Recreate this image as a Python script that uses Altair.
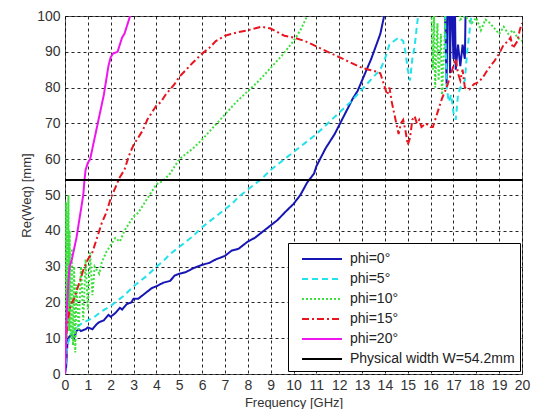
import altair as alt
import pandas as pd

# ---------------- data ----------------
SERIES = ["phi=0°", "phi=5°", "phi=10°", "phi=15°", "phi=20°", "Physical width W=54.2mm"]

phi0_f = [0, 0.05, 0.1, 0.15, 0.2, 0.3, 0.4, 0.5, 0.6, 0.7, 0.9, 1.0, 1.2, 1.4, 1.5, 1.7, 1.9, 2.0,
          2.2, 2.4, 2.5, 2.7, 2.9, 3.0, 3.2, 3.4, 3.6, 3.8, 4.0, 4.3, 4.6, 4.8, 5.0, 5.3, 5.6, 6.0,
          6.3, 6.6, 7.0, 7.3, 7.6, 8.0, 8.3, 8.6, 9.0, 9.3, 9.6, 10.0, 10.3, 10.6, 10.9, 11.0, 11.2,
          11.4, 11.6, 11.8, 12.0, 12.2, 12.4, 12.6, 12.8, 13.0, 13.2, 13.4, 13.6, 13.8, 13.9, 14.0,
          14.2, 16.6, 16.7, 16.75, 16.8, 16.85, 16.9, 17.0, 17.05, 17.1, 17.2, 17.3, 17.4, 17.5,
          17.55, 18.0, 20.0]
phi0_v = [0, 2, 8, 10, 10.5, 11, 10, 12, 12.5, 12, 12.5, 13, 12.5, 14, 14.5, 15, 16.5, 16,
          17, 18.5, 18, 19.5, 20, 21, 21, 22, 23, 24, 24.5, 25.5, 26, 27.5, 28, 28.5, 29.5, 30.5,
          31, 32, 33, 34.5, 35, 37, 38, 39.5, 41.5, 43, 45, 47.5, 50, 53.5, 56, 58, 60.5,
          63, 65, 67, 69.5, 72, 74.5, 77, 79, 82, 85, 88, 91.5, 95, 98, 101,
          110, 110, 81, 110, 110, 84, 110, 88, 110, 85, 92, 86, 92, 88,
          110, 110, 110]

phi5_f = [0, 0.05, 0.1, 0.2, 0.3, 0.5, 0.7, 1.0, 1.3, 1.6, 2.0, 2.3, 2.6, 3.0, 3.3, 3.6, 4.0, 4.3,
          4.6, 5.0, 5.3, 5.6, 6.0, 6.3, 6.6, 7.0, 7.3, 7.6, 8.0, 8.3, 8.6, 9.0, 9.3, 9.6, 10.0,
          10.5, 11.0, 11.5, 12.0, 12.5, 13.0, 13.5, 13.8, 14.0, 14.2, 14.4, 14.6, 14.8, 14.9, 15.0,
          15.1, 15.2, 15.3, 15.45, 15.6, 16.6, 16.7, 16.8, 16.9, 17.0, 17.1, 17.2, 17.3, 17.5,
          17.6, 17.8, 18.0, 20.0]
phi5_v = [0, 4, 8, 10, 11.5, 13, 14, 15, 16, 17.5, 19, 20.5, 22, 24.5, 26, 27.5, 30, 31.5,
          33.5, 35.5, 37, 38.5, 41, 42.5, 44, 46, 47.5, 49.5, 51.5, 53, 54.5, 57, 58.5, 60, 62,
          64.5, 67, 70, 73, 76, 79.5, 83, 85, 88, 92, 93, 94, 93, 90, 85,
          82, 88, 91.5, 100, 110, 110, 80, 76, 78, 73, 71, 78, 80, 82,
          90, 101, 110, 110]

phi10_f = [0, 0.03, 0.05, 0.08, 0.1, 0.12, 0.15, 0.18, 0.2, 0.25, 0.3, 0.35, 0.4, 0.45, 0.5, 0.6,
           0.7, 0.8, 0.9, 1.0, 1.1, 1.2, 1.3, 1.5, 1.6, 1.8, 2.0, 2.2, 2.4, 2.6, 2.8, 3.0, 3.2,
           3.5, 3.8, 4.0, 4.3, 4.6, 5.0, 5.3, 5.6, 6.0, 6.5, 7.0, 7.5, 8.0, 8.5, 9.0, 9.5, 10.0,
           10.3, 10.6, 10.8, 16.0, 16.1, 16.15, 16.2, 16.3, 16.35, 16.45, 16.5, 16.6, 16.7, 17.2,
           17.3, 17.5, 17.8, 18.0, 18.2, 18.4, 18.6, 18.8, 19.0, 19.2, 19.4, 19.6, 19.8, 20.0]
phi10_v = [0, 20, 48, 10, 45, 15, 50, 12, 40, 10, 35, 8, 30, 6, 25, 12,
           30, 15, 32, 18, 34, 22, 30, 28, 31, 34, 36, 38, 37, 40, 42, 44, 45,
           48, 51, 53, 54, 56, 60, 61.5, 63, 65.5, 69, 72.5, 76, 79, 82, 85.5, 89, 93,
           96, 100, 110, 110, 85, 100, 80, 98, 82, 95, 78, 92, 110, 110,
           99, 100, 98, 99.5, 96, 99, 98, 96.5, 95, 97, 95, 96, 94, 93]

phi15_f = [0, 0.05, 0.1, 0.2, 0.3, 0.4, 0.5, 0.6, 0.8, 1.0, 1.2, 1.4, 1.6, 1.8, 2.0, 2.2, 2.4,
           2.6, 2.8, 3.0, 3.2, 3.4, 3.6, 3.8, 4.0, 4.2, 4.4, 4.6, 4.8, 5.0, 5.3, 5.6, 6.0, 6.3,
           6.6, 7.0, 7.3, 7.6, 8.0, 8.3, 8.6, 9.0, 9.3, 9.6, 10.0, 10.5, 11.0, 11.5, 12.0, 12.5,
           13.0, 13.3, 13.6, 13.8, 14.0, 14.1, 14.2, 14.3, 14.4, 14.5, 14.6, 14.7, 14.8, 14.9,
           15.0, 15.1, 15.2, 15.3, 15.4, 15.5, 15.6, 15.8, 16.0, 16.1, 16.3, 16.5, 16.7, 16.85,
           17.0, 17.1, 17.2, 17.3, 17.4, 17.5, 17.7, 17.9, 18.1, 18.3, 18.5, 18.8, 19.0, 19.2,
           19.4, 19.5, 19.6, 19.8, 19.9, 20.0]
phi15_v = [3, 10, 14, 18, 20, 21, 23, 25, 29, 32, 34, 38, 42, 45, 49, 52, 55,
           57, 61, 64, 66, 68, 71, 73, 75, 76, 78, 79.5, 81, 83, 85, 87, 89.5, 91,
           93, 94.5, 95, 95.5, 96, 96.5, 97, 96.5, 95.5, 94.5, 94, 93, 91.5, 90, 88.5, 87,
           85.5, 85, 84.5, 84, 80, 78, 80, 76, 73, 70, 67, 70, 71, 68,
           64, 66, 71, 72, 70, 71, 69, 70, 69, 69, 73, 77, 80, 83,
           86, 88, 84, 82, 85, 80, 79.5, 81, 81.5, 83, 85, 87.5, 89.5, 92,
           93, 94, 91, 93, 96, 98]

phi20_f = [0, 0.03, 0.06, 0.1, 0.15, 0.2, 0.3, 0.4, 0.5, 0.6, 0.7, 0.8, 0.85, 0.9, 1.0, 1.1,
           1.2, 1.3, 1.4, 1.5, 1.6, 1.7, 1.8, 1.9, 2.0, 2.1, 2.3, 2.4, 2.5, 2.6, 2.7, 2.85, 2.9]
phi20_v = [0, 8, 15, 20, 26, 30, 32, 35, 38, 42, 46, 50, 54, 57, 59, 60,
           63, 66, 69, 72, 75, 78, 82, 86, 88.5, 89.5, 90, 92, 94, 95, 97, 100, 105]

width_f = [0, 20]
width_v = [54.2, 54.2]

x_ticks = list(range(0, 21))
y_ticks = list(range(0, 101, 10))

# ---------------- styles ----------------
COLORS = ["#1616b4", "#22e2ea", "#3ee03e", "#e8141e", "#ee16ee", "#000000"]
DASHES = [[1, 0], [6, 4], [2, 2], [7, 3, 2, 3], [1, 0], [1, 0]]
WIDTHS = [2, 2, 2, 1.6, 2, 4]

rows = []
for name, fs, vs in zip(SERIES,
                        [phi0_f, phi5_f, phi10_f, phi15_f, phi20_f, width_f],
                        [phi0_v, phi5_v, phi10_v, phi15_v, phi20_v, width_v]):
    for i, (f, v) in enumerate(zip(fs, vs)):
        rows.append({"f": f, "v": v, "series": name, "i": i})
df = pd.DataFrame(rows)

FONT = "Liberation Sans"

chart = alt.Chart(df).mark_line(clip=True).encode(
    x=alt.X("f:Q", title="Frequency [GHz]",
            scale=alt.Scale(domain=[0, 20], nice=False, zero=False),
            axis=alt.Axis(values=x_ticks, labelPadding=4, titlePadding=4,
                          labelOverlap=False, labelFlush=False)),
    y=alt.Y("v:Q", title="Re(Weq) [mm]",
            scale=alt.Scale(domain=[0, 100], nice=False),
            axis=alt.Axis(values=y_ticks, labelPadding=5, titlePadding=3,
                          labelOverlap=False, labelFlush=False)),
    color=alt.Color("series:N", scale=alt.Scale(domain=SERIES, range=COLORS),
                    legend=alt.Legend(title=None, orient="none", legendX=223, legendY=227,
                                      symbolType="M-0.2,0H3.8", symbolSize=400,
                                      labelFont=FONT, labelFontSize=14, labelColor="#222",
                                      strokeColor="black", fillColor="white",
                                      padding=5, rowPadding=2, labelOffset=35,
                                      labelLimit=300)),
    strokeDash=alt.StrokeDash("series:N", scale=alt.Scale(domain=SERIES, range=DASHES)),
    strokeWidth=alt.StrokeWidth("series:N", scale=alt.Scale(domain=SERIES, range=WIDTHS)),
    order="i:Q",
).properties(
    width=457, height=358,
    autosize=alt.AutoSizeParams(type="none"),
    padding={"left": 57, "top": 8, "right": 9, "bottom": 35},
).configure_view(
    stroke="#555", strokeWidth=1
).configure_axis(
    grid=True, gridColor="black", gridDash=[3, 3], gridOpacity=0.85, gridWidth=1,
    domain=False, ticks=False,
    labelFont=FONT, labelFontSize=14, labelColor="#333",
    titleFont=FONT, titleFontSize=13, titleFontWeight="normal", titleColor="#333",
)

chart.save("out.html", embed_options={"renderer": "svg", "actions": False})
